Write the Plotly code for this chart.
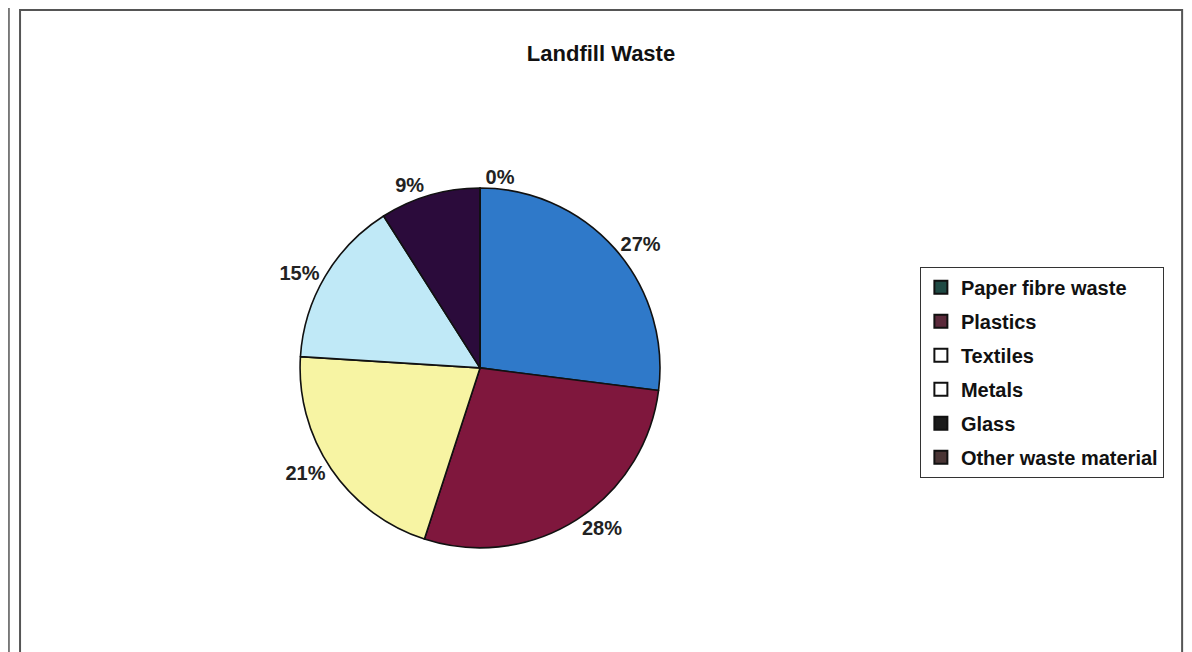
import plotly.graph_objects as go

categories = ["Paper fibre waste", "Plastics", "Textiles", "Metals", "Glass", "Other waste material"]
shares = [27, 28, 21, 15, 9, 0]
slice_colors = ["#2f79c9", "#7f173d", "#f7f4a3", "#c0e9f7", "#2b0b3b", "#4a3434"]
# the legend keys in the scan came out in different tones from the slices
legend_colors = ["#1f4a44", "#5b2a3b", "#ffffff", "#ffffff", "#1b1b1b", "#4a3535"]

FONT = "Liberation Sans, Arial"

fig = go.Figure()

fig.add_trace(go.Pie(
    labels=categories,
    values=shares,
    sort=False,
    direction="clockwise",
    rotation=0,
    marker=dict(colors=slice_colors, line=dict(color="#111111", width=1.6)),
    texttemplate="<b>%{percent:.0%}</b>",
    textposition="outside",
    outsidetextfont=dict(family=FONT, size=20, color="#222222"),
    showlegend=False,
    hoverinfo="label+percent",
    domain=dict(x=[0.245, 0.547], y=[0.172, 0.724]),
))

for name, col in zip(categories, legend_colors):
    fig.add_trace(go.Scatter(
        x=[None], y=[None], mode="markers", name="<b>" + name + "</b>", legendgroup=name,
        marker=dict(symbol="square", size=13, color=col, line=dict(color="#111111", width=2)),
    ))

fig.update_layout(
    width=1192, height=652,
    margin=dict(l=0, r=0, t=0, b=0),
    paper_bgcolor="white", plot_bgcolor="white",
    title=dict(text="<b>Landfill Waste</b>", x=0.4975, xanchor="center", y=0.931, yanchor="middle",
               font=dict(family=FONT, size=22, color="#111111")),
    xaxis=dict(visible=False), yaxis=dict(visible=False),
    legend=dict(
        x=0.765, xanchor="left", y=0.603, yanchor="top",
        bordercolor="#333333", borderwidth=1, bgcolor="white",
        font=dict(family=FONT, size=20, color="#111111"),
        tracegroupgap=5, itemwidth=30,
    ),
    shapes=[
        dict(type="rect", xref="paper", yref="paper", x0=0.0101, x1=0.985, y0=-0.01, y1=0.997,
             line=dict(color="#555555", width=2)),
        dict(type="line", xref="paper", yref="paper", x0=0.0008, x1=0.0008, y0=-0.01, y1=1,
             line=dict(color="#555555", width=1.5)),
    ],
)

fig.write_html("out.html")
